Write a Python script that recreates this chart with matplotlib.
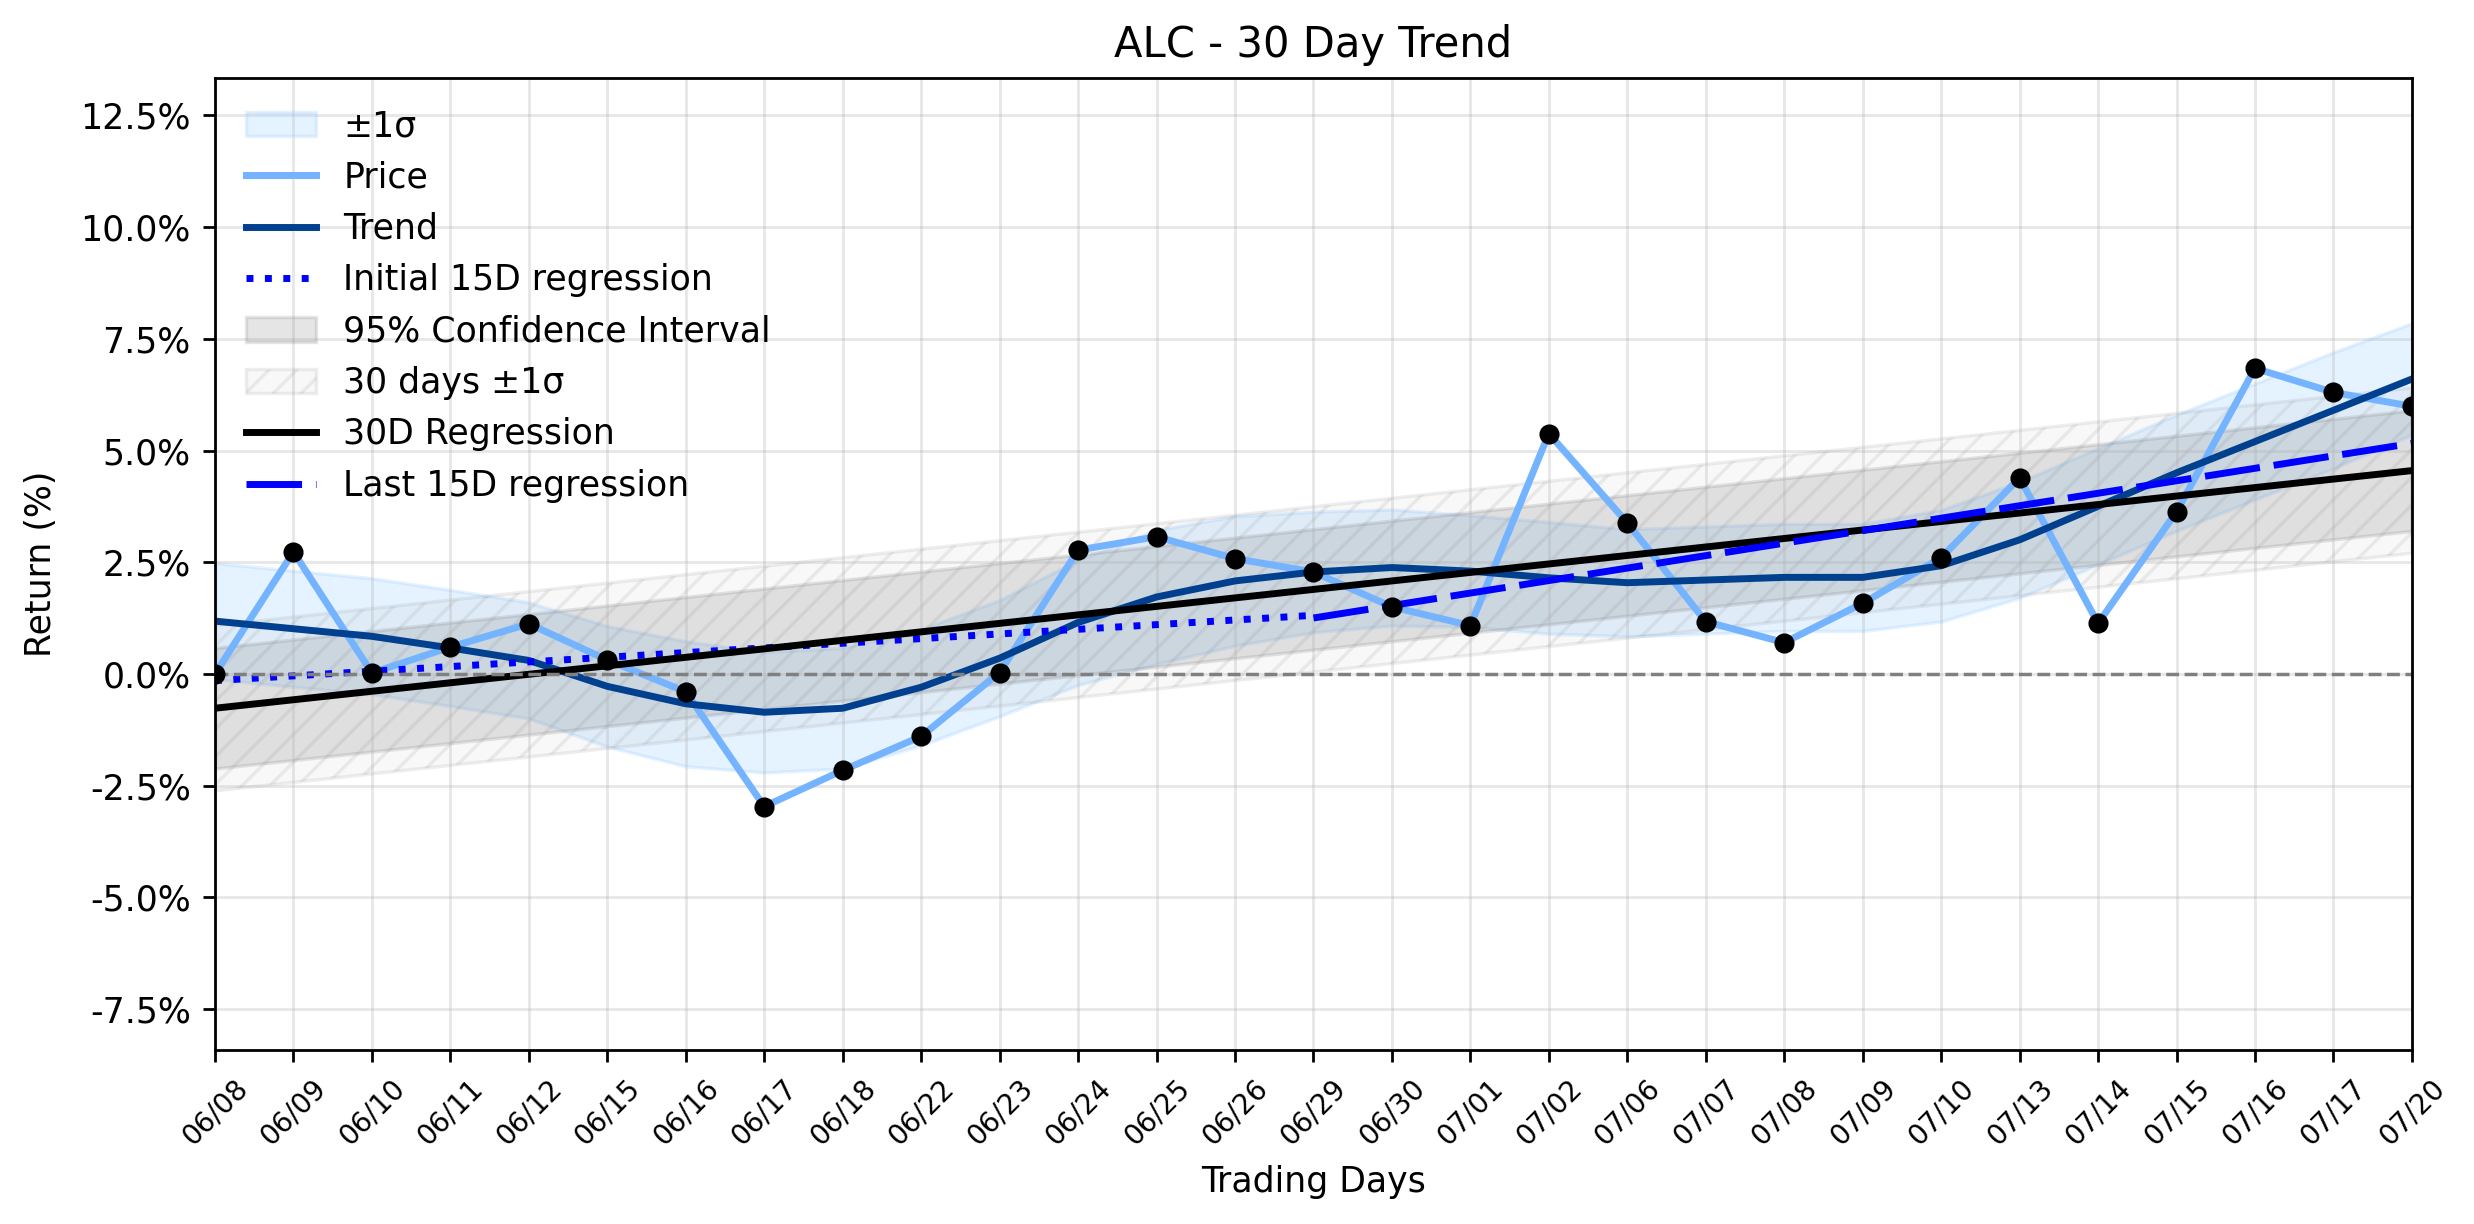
import matplotlib
matplotlib.use("Agg")
import matplotlib.pyplot as plt
import numpy as np

# Trading days shown on the x axis
dates = ['06/08', '06/09', '06/10', '06/11', '06/12', '06/15', '06/16', '06/17',
         '06/18', '06/22', '06/23', '06/24', '06/25', '06/26', '06/29', '06/30',
         '07/01', '07/02', '07/06', '07/07', '07/08', '07/09', '07/10', '07/13',
         '07/14', '07/15', '07/16', '07/17', '07/20']

# Cumulative return (%) per day
price = [0.00, 2.73, 0.02, 0.60, 1.12, 0.31, -0.40, -2.97, -2.16, -1.40, 0.03,
         2.77, 3.07, 2.58, 2.28, 1.50, 1.08, 5.38, 3.38, 1.17, 0.70, 1.58, 2.60,
         4.39, 1.13, 3.63, 6.84, 6.30, 5.99]

# Smoothed trend (%)
trend = [1.18, 1.01, 0.84, 0.58, 0.30, -0.28, -0.67, -0.86, -0.77, -0.30, 0.35,
         1.15, 1.72, 2.08, 2.28, 2.38, 2.30, 2.15, 2.04, 2.10, 2.16, 2.16, 2.42,
         3.00, 3.75, 4.50, 5.20, 5.90, 6.60]

# Width of the +/-1 sigma band around the trend (%)
sigma = [1.30, 1.30, 1.30, 1.30, 1.30, 1.35, 1.40, 1.35, 1.35, 1.30, 1.30,
         1.40, 1.50, 1.45, 1.35, 1.30, 1.25, 1.25, 1.20, 1.20, 1.20, 1.20, 1.25,
         1.30, 1.30, 1.30, 1.30, 1.30, 1.25]

# Regression lines (start/end values, %)
reg30_idx = [0, 28]
reg30 = [-0.77, 4.55]
ci_lower = [-2.12, 3.20]
ci_upper = [0.58, 5.90]
band30_lower = [-2.62, 2.70]
band30_upper = [1.08, 6.40]

init15_idx = [0, 14]
init15 = [-0.15, 1.31]
last15_idx = [14, 28]
last15 = [1.25, 5.16]

yticks = [-7.5, -5.0, -2.5, 0.0, 2.5, 5.0, 7.5, 10.0, 12.5]

x = np.arange(len(dates))
trend_arr = np.array(trend)
sig_arr = np.array(sigma)

fig, ax = plt.subplots(figsize=(2474 / 250, 1224 / 250), dpi=250)
fig.subplots_adjust(left=0.0869, right=0.9749, top=0.9363, bottom=0.1422)

ax.fill_between(x, trend_arr - sig_arr, trend_arr + sig_arr,
                color='#99ccff', alpha=0.25, label='±1σ')
ax.plot(x, price, color='#74b3ff', lw=2, label='Price')
ax.plot(x, trend, color='#00408f', lw=2, label='Trend')
ax.plot(init15_idx, init15, color='blue', lw=2, linestyle=':',
        label='Initial 15D regression')
ax.fill_between(reg30_idx, ci_lower, ci_upper, color='gray', alpha=0.2,
                label='95% Confidence Interval')
ax.fill_between(reg30_idx, band30_lower, band30_upper,
                facecolor=(0.5, 0.5, 0.5, 0.05), edgecolor=(0.5, 0.5, 0.5, 0.13),
                hatch='///', linewidth=1, label='30 days ±1σ')
ax.plot(reg30_idx, reg30, color='black', lw=2, label='30D Regression')
ax.plot(last15_idx, last15, color='blue', lw=2, linestyle=(0, (8, 2)),
        label='Last 15D regression')

ax.scatter(x, price, color='black', s=23, zorder=5)
ax.axhline(0, color='gray', linestyle='--', lw=1)

ax.set_title('ALC - 30 Day Trend')
ax.set_xlabel('Trading Days')
ax.set_ylabel('Return (%)', labelpad=6.3)
ax.set_xticks(x)
ax.set_xticklabels(dates, rotation=45, fontsize=8)
ax.set_yticks(yticks)
ax.set_yticklabels([f'{v:.1f}%' for v in yticks])
ax.set_xlim(0, 28)
ax.set_ylim(-8.42, 13.34)
ax.grid(True, alpha=0.3)
ax.legend(loc='upper left', frameon=False)

fig.savefig('out.png', dpi=250)
